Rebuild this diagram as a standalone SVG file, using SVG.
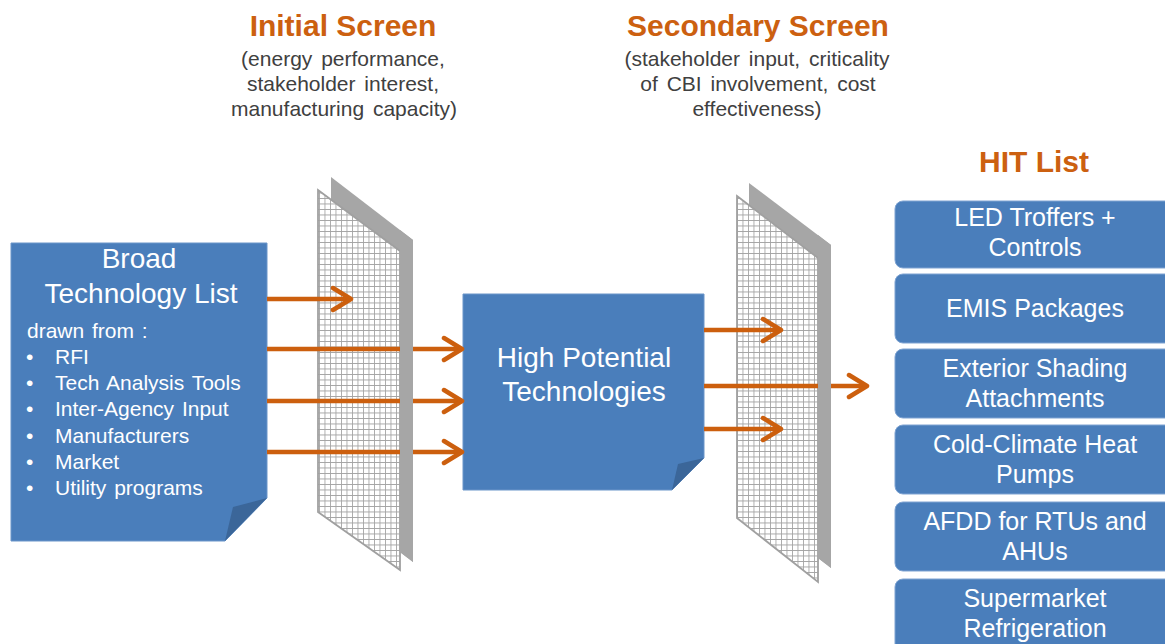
<svg xmlns="http://www.w3.org/2000/svg" width="1165" height="644" viewBox="0 0 1165 644">
<style>
.box{fill:#4a7ebb;stroke:#6a95c9;stroke-width:1}
.fold{fill:#3b6699}
.wt{fill:#ffffff;font-family:"Liberation Sans",Arial,sans-serif}
.t28{font-size:28px}
.t25{font-size:25px}
.t21{font-size:21px;word-spacing:2px}
.ttl{fill:#cc6010;font-family:"Liberation Sans",Arial,sans-serif;font-weight:bold;font-size:30px}
.sub{fill:#404040;font-family:"Liberation Sans",Arial,sans-serif;font-size:21px;word-spacing:3px}
.back{fill:#a6a6a6}
.grid{fill:url(#mesh);stroke:#a0a0a0;stroke-width:1.8}
.conn{stroke:#cc5f0e;stroke-width:4.5;fill:none}
.hit{fill:#4a7ebb;stroke:#7ea3d2;stroke-width:1}
</style>
<defs>
<pattern id="mesh" patternUnits="userSpaceOnUse" width="5.5" height="5.5">
<rect width="5.5" height="5.5" fill="#ffffff"/>
<path d="M0,0 H5.5 M0,0 V5.5" stroke="#a3a3a3" stroke-width="1.7" fill="none"/>
</pattern>
<marker id="chev" markerUnits="userSpaceOnUse" markerWidth="28" markerHeight="32" viewBox="-24 -16 28 32" refX="0" refY="0" orient="auto">
<path d="M-17,-11 L1,0 L-17,11" fill="none" stroke="#cc5f0e" stroke-width="4.5" stroke-linecap="round" stroke-linejoin="round"/>
</marker>
</defs>
<rect width="1165" height="644" fill="#ffffff"/>

<g id="title-initial">
<text class="ttl" x="343" y="36" text-anchor="middle">Initial Screen</text>
<text class="sub" x="343" y="66" text-anchor="middle">(energy performance,</text>
<text class="sub" x="343" y="91" text-anchor="middle">stakeholder interest,</text>
<text class="sub" x="344" y="116" text-anchor="middle">manufacturing capacity)</text>
</g>
<g id="title-secondary">
<text class="ttl" x="758" y="36" text-anchor="middle">Secondary Screen</text>
<text class="sub" x="757" y="66" text-anchor="middle">(stakeholder input, criticality</text>
<text class="sub" x="758" y="91" text-anchor="middle">of CBI involvement, cost</text>
<text class="sub" x="757" y="116" text-anchor="middle">effectiveness)</text>
</g>
<g id="title-hit">
<text class="ttl" x="1034" y="172" text-anchor="middle">HIT List</text>
</g>

<g id="screen1">
<polygon class="back" points="331,177 413,240 413,562 331,500"/>
<polygon class="grid" points="318,190 400,251 400,570 318,512"/>
</g>
<g id="screen2">
<polygon class="back" points="749,183 831,245 831,568 749,505"/>
<polygon class="grid" points="737,196 818,258 818,582 737,518"/>
</g>

<g id="broad-list">
<polygon class="box" points="11,243 267,243 267,498 225,541 11,541"/>
<polygon class="fold" points="267,498 225,541 233,507"/>
<text class="wt t28" x="139" y="268" text-anchor="middle">Broad</text>
<text class="wt t28" x="141" y="303" text-anchor="middle">Technology List</text>
<text class="wt t21" x="27" y="338">drawn from :</text>
<g class="wt t21">
<text x="26" y="364">•</text><text x="55" y="364">RFI</text>
<text x="26" y="390">•</text><text x="55" y="390">Tech Analysis Tools</text>
<text x="26" y="416">•</text><text x="55" y="416">Inter-Agency Input</text>
<text x="26" y="443">•</text><text x="55" y="443">Manufacturers</text>
<text x="26" y="469">•</text><text x="55" y="469">Market</text>
<text x="26" y="495">•</text><text x="55" y="495">Utility programs</text>
</g>
</g>

<g id="high-potential">
<polygon class="box" points="463,294 704,294 704,458 672,490 463,490"/>
<polygon class="fold" points="704,458 672,490 678,464"/>
<text class="wt t28" x="584" y="367" text-anchor="middle">High Potential</text>
<text class="wt t28" x="584" y="401" text-anchor="middle">Technologies</text>
</g>

<g id="connectors">
<line class="conn" x1="267" y1="299" x2="350" y2="299" marker-end="url(#chev)"/>
<line class="conn" x1="267" y1="349" x2="461" y2="349" marker-end="url(#chev)"/>
<line class="conn" x1="267" y1="401" x2="461" y2="401" marker-end="url(#chev)"/>
<line class="conn" x1="267" y1="452" x2="461" y2="452" marker-end="url(#chev)"/>
<line class="conn" x1="704" y1="330" x2="780" y2="330" marker-end="url(#chev)"/>
<line class="conn" x1="704" y1="386" x2="866" y2="386" marker-end="url(#chev)"/>
<line class="conn" x1="704" y1="429" x2="780" y2="429" marker-end="url(#chev)"/>
</g>

<g id="screen1-edge">
<polygon class="back" points="400,230 413,240 413,562 400,552"/>
</g>
<g id="screen2-edge">
<polygon class="back" points="818,235 831,245 831,568 818,558"/>
</g>

<g id="hit-1">
<rect class="hit" x="895" y="201" width="290" height="67" rx="8"/>
<text class="wt t25" x="1035" y="226" text-anchor="middle">LED Troffers +</text>
<text class="wt t25" x="1035" y="256" text-anchor="middle">Controls</text>
</g>
<g id="hit-2">
<rect class="hit" x="895" y="274" width="290" height="69" rx="8"/>
<text class="wt t25" x="1035" y="317" text-anchor="middle">EMIS Packages</text>
</g>
<g id="hit-3">
<rect class="hit" x="895" y="349" width="290" height="69" rx="8"/>
<text class="wt t25" x="1035" y="377" text-anchor="middle">Exterior Shading</text>
<text class="wt t25" x="1035" y="407" text-anchor="middle">Attachments</text>
</g>
<g id="hit-4">
<rect class="hit" x="895" y="425" width="290" height="69" rx="8"/>
<text class="wt t25" x="1035" y="453" text-anchor="middle">Cold-Climate Heat</text>
<text class="wt t25" x="1035" y="483" text-anchor="middle">Pumps</text>
</g>
<g id="hit-5">
<rect class="hit" x="895" y="502" width="290" height="69" rx="8"/>
<text class="wt t25" x="1035" y="530" text-anchor="middle">AFDD for RTUs and</text>
<text class="wt t25" x="1035" y="560" text-anchor="middle">AHUs</text>
</g>
<g id="hit-6">
<rect class="hit" x="895" y="579" width="290" height="80" rx="8"/>
<text class="wt t25" x="1035" y="607" text-anchor="middle">Supermarket</text>
<text class="wt t25" x="1035" y="637" text-anchor="middle">Refrigeration</text>
</g>
</svg>
